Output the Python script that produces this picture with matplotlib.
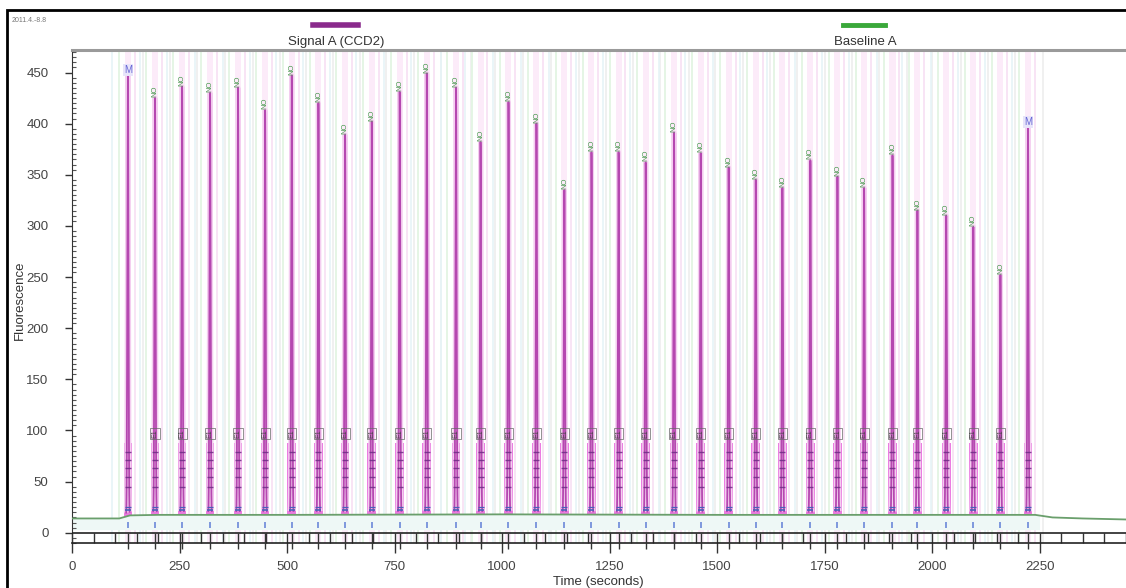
import numpy as np
import matplotlib
matplotlib.use("Agg")
import matplotlib.pyplot as plt
from matplotlib.lines import Line2D
from matplotlib.patches import Rectangle
from matplotlib.ticker import MultipleLocator

plt.rcParams['font.family'] = ['Liberation Sans', 'DejaVu Sans']

# Peak retention times (s) and apex heights (fluorescence)
peak_times = [130, 193, 256, 321, 386, 449, 511, 573, 635, 697, 762, 825,
              893, 950, 1015, 1080, 1145, 1208, 1271, 1334, 1400, 1462,
              1527, 1590, 1652, 1717, 1780, 1842, 1908, 1966, 2033, 2096,
              2159, 2223]
peak_heights = [447, 425, 436, 430, 435, 413, 447, 420, 389, 402, 431, 449,
                435, 382, 421, 400, 335, 372, 372, 362, 391, 371, 357, 345,
                337, 364, 348, 337, 369, 315, 310, 299, 252, 396]
# Marker peaks (first and last) carry the "M" tag
marker_peaks = [0, 33]

# Baseline A trace
baseline_t = [0, 110, 135, 200, 500, 1000, 1500, 2000, 2240, 2280, 2350, 2451]
baseline_v = [14, 14, 17, 17.5, 17.5, 18, 17.5, 17.5, 17.5, 15, 14, 13]

# Integration window top for each peak
window_top = 88

x_ticks = [0, 250, 500, 750, 1000, 1250, 1500, 1750, 2000, 2250]
y_ticks = [0, 50, 100, 150, 200, 250, 300, 350, 400, 450]

fig = plt.figure(figsize=(11.26, 5.88), dpi=100)
ax = fig.add_axes([72 / 1126, 1 - 543 / 588, 1 - 72 / 1126, (543 - 50) / 588])
ax.set_xlim(0, 2451)
ax.set_ylim(-10, 472)

t = np.arange(0, 2451, 0.1)
base = np.interp(t, baseline_t, baseline_v)
signal = base.copy()
for pt, ph in zip(peak_times, peak_heights):
    amp = ph - np.interp(pt, baseline_t, baseline_v)
    signal += amp * np.exp(-0.5 * ((t - pt) / 1.3) ** 2)
peak_part = np.where(signal - base > 3, signal, np.nan)

# faint marker lines around each peak
for pt in peak_times:
    ax.axvspan(pt - 7, pt + 7, color='#fcebf9', lw=0, zorder=0)
    ax.axvline(pt - 20, color='#e3f5e3', lw=1.3, zorder=0)
    ax.axvline(pt + 16, color='#f8e2f5', lw=1.3, zorder=0)
    ax.axvline(pt + 34, color='#efefef', lw=1.3, zorder=0)
    ax.axvline(pt - 36, color='#e6f4f7', lw=1.2, zorder=0)

# pale band under baseline
ax.fill_between(t, 3, base, where=t < 2250, color='#eef8f6', lw=0, zorder=0.5)

# integration windows at peak bases
bases_at_peaks = np.interp(peak_times, baseline_t, baseline_v)
ax.bar(peak_times, window_top - bases_at_peaks, bottom=bases_at_peaks, width=20,
       color='#e866dc', alpha=0.85, lw=0, zorder=1)

# signal trace
ax.plot(t, peak_part, color='#f4cdf0', lw=3.5, zorder=2, solid_capstyle='butt')
ax.plot(t, peak_part, color='#b548b0', lw=1.3, zorder=3)

# baseline
ax.plot(baseline_t, baseline_v, color='#6a9f6c', lw=1.3, zorder=4)

# annotation marks inside the windows
mark_levels = [45, 55, 63, 71, 79]
for lvl in mark_levels:
    ax.plot(peak_times, [lvl] * len(peak_times), ls='none', marker='_',
            ms=5, mew=1.0, color='#6e2c86', alpha=0.85, zorder=5)
ax.plot(peak_times, [22] * len(peak_times), ls='none', marker='_',
        ms=5, mew=1.2, color='#4a5fb8', zorder=5)
ax.plot(peak_times, [25] * len(peak_times), ls='none', marker='_',
        ms=5, mew=0.9, color='#4a5fb8', zorder=5)
ax.plot(peak_times, [8] * len(peak_times), ls='none', marker='|',
        ms=5, mew=1.2, color='#6a88d8', zorder=5)

# peak labels
for i, (pt, ph) in enumerate(zip(peak_times, peak_heights)):
    if i in marker_peaks:
        ax.text(pt, ph + 1, 'M', color='#6464d4', fontsize=7, ha='center',
                va='bottom', zorder=6,
                bbox=dict(boxstyle='square,pad=0.1', fc='#e8e4fa', ec='none'))
    else:
        ax.text(pt, ph + 1, 'NO', color='#4a9a50', fontsize=5.5, rotation=90,
                ha='center', va='bottom', zorder=6)
        ax.text(pt, 93, 'E1', color='#444444', fontsize=5, rotation=90,
                ha='center', va='bottom', zorder=6,
                bbox=dict(boxstyle='square,pad=0.15', fc='none', ec='#666666', lw=0.5))

# axes styling
ax.spines['right'].set_visible(False)
ax.spines['top'].set_color('#9a9a9a')
ax.spines['top'].set_linewidth(2.2)
ax.spines['left'].set_color('#333333')
ax.spines['bottom'].set_color('#222222')
ax.spines['bottom'].set_linewidth(1.2)
ax.axhline(0, color='#222222', lw=1.2, zorder=6)
ax.vlines(peak_times, -16, 0, color='#333333', lw=1.0, clip_on=False, zorder=6)

ax.set_xticks(x_ticks)
ax.xaxis.set_minor_locator(MultipleLocator(50))
ax.tick_params(axis='x', which='major', direction='inout', length=14, width=1,
               labelsize=9.5, pad=6, colors='#333333', labelcolor='#444444')
ax.tick_params(axis='x', which='minor', direction='in', length=7, width=1,
               colors='#333333')
ax.set_yticks(y_ticks)
ax.yaxis.set_minor_locator(MultipleLocator(5))
ax.tick_params(axis='y', which='major', direction='out', length=5, width=1,
               labelsize=9.5, pad=12, colors='#333333', labelcolor='#444444')
ax.tick_params(axis='y', which='minor', direction='in', length=3, width=0.8,
               colors='#555555')

fig.text(598 / 1126, 1 - 582 / 588, 'Time (seconds)', ha='center', va='center',
         fontsize=9.5, color='#333333')
fig.text(20 / 1126, 1 - 300 / 588, 'Fluorescence', rotation=90, ha='center',
         va='center', fontsize=9.5, color='#333333')

# legend entries above the plot
fig.add_artist(Line2D([313 / 1126, 358 / 1126], [1 - 25 / 588] * 2,
                      color='#8a2a8c', lw=4))
fig.text(336 / 1126, 1 - 42 / 588, 'Signal A (CCD2)', ha='center', va='center',
         fontsize=9.5, color='#333333')
fig.add_artist(Line2D([843 / 1126, 885 / 1126], [1 - 25 / 588] * 2,
                      color='#3aa83a', lw=3.5))
fig.text(865 / 1126, 1 - 42 / 588, 'Baseline A', ha='center', va='center',
         fontsize=9.5, color='#333333')

fig.text(12 / 1126, 1 - 20 / 588, '2011.4.-8.8', ha='left', va='center',
         fontsize=5, color='#777777')

# outer frame
fig.add_artist(Rectangle((7 / 1126, -0.1), 1.2, 1.1 - 10 / 588,
                         transform=fig.transFigure, fill=False, ec='black',
                         lw=2, clip_on=False))

fig.savefig('out.png', dpi=100)
